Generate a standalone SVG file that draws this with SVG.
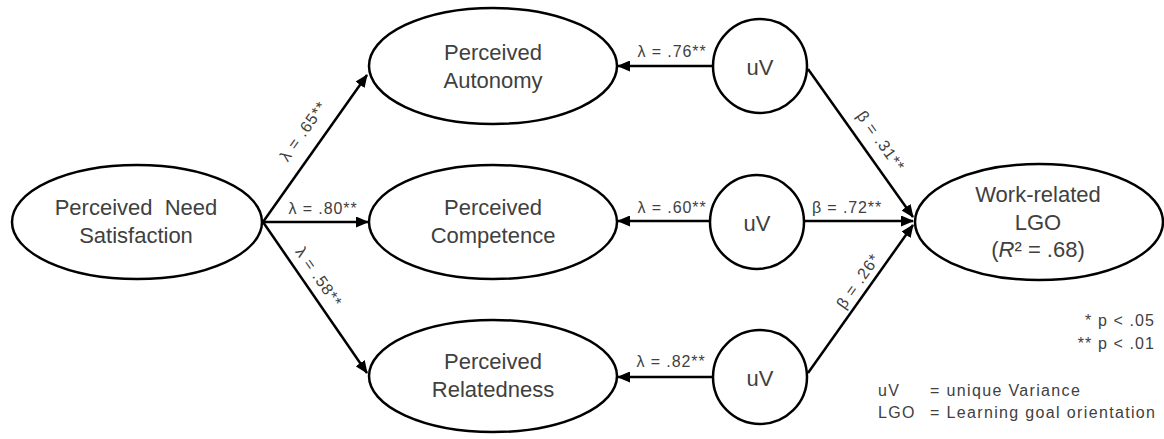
<svg xmlns="http://www.w3.org/2000/svg" width="1164" height="439" viewBox="0 0 1164 439">
<style>
.node{fill:#fff;stroke:#000;stroke-width:2.5}
.lbl{font-family:"Liberation Sans",Arial,sans-serif;font-size:22px;fill:#404040;text-anchor:middle}
.el{font-family:"Liberation Sans",Arial,sans-serif;font-size:16px;letter-spacing:0.9px;fill:#404040;text-anchor:middle}
.lg{font-family:"Liberation Sans",Arial,sans-serif;font-size:16px;letter-spacing:1.35px;fill:#404040}
.lgr{font-family:"Liberation Sans",Arial,sans-serif;font-size:16px;letter-spacing:1.1px;fill:#404040;text-anchor:end}
.con{fill:none;stroke:#000;stroke-width:2.5}
</style>
<defs>
<marker id="ah" markerUnits="userSpaceOnUse" markerWidth="13" markerHeight="11" viewBox="0 0 13 11" refX="12" refY="5.5" orient="auto">
<path d="M0,0 L13,5.5 L0,11 Z" fill="#000"/>
</marker>
</defs>
<g id="connectors">
<line class="con" x1="263" y1="222" x2="367" y2="75" marker-end="url(#ah)"/>
<line class="con" x1="263" y1="222" x2="368" y2="222" marker-end="url(#ah)"/>
<line class="con" x1="263" y1="222" x2="367" y2="373" marker-end="url(#ah)"/>
<line class="con" x1="713" y1="66" x2="618" y2="66" marker-end="url(#ah)"/>
<line class="con" x1="710" y1="221" x2="618" y2="221" marker-end="url(#ah)"/>
<line class="con" x1="713" y1="377" x2="618" y2="377" marker-end="url(#ah)"/>
<line class="con" x1="808" y1="69" x2="913" y2="217" marker-end="url(#ah)"/>
<line class="con" x1="804" y1="221" x2="913" y2="221" marker-end="url(#ah)"/>
<line class="con" x1="808" y1="373" x2="913" y2="225" marker-end="url(#ah)"/>
<text class="el" transform="translate(303,131) rotate(-54.7)" dy="0.35em">λ = .65**</text>
<text class="el" x="323" y="214">λ = .80**</text>
<text class="el" transform="translate(319,277) rotate(55.2)" dy="0.35em">λ = .58**</text>
<text class="el" x="672" y="57">λ = .76**</text>
<text class="el" x="672" y="213">λ = .60**</text>
<text class="el" x="671" y="367">λ = .82**</text>
<text class="el" x="847" y="213">β = .72**</text>
<text class="el" transform="translate(881,141) rotate(54.5)" dy="0.35em">β = .31**</text>
<text class="el" transform="translate(858,281) rotate(-55)" dy="0.35em">β = .26*</text>
</g>
<g id="need">
<ellipse class="node" cx="137" cy="222" rx="125" ry="57"/>
<text class="lbl" x="136" y="215" xml:space="preserve">Perceived  Need</text>
<text class="lbl" x="136" y="243">Satisfaction</text>
</g>
<g id="autonomy">
<ellipse class="node" cx="493" cy="66" rx="124" ry="58"/>
<text class="lbl" x="493" y="60">Perceived</text>
<text class="lbl" x="493" y="88">Autonomy</text>
</g>
<g id="competence">
<ellipse class="node" cx="493" cy="222" rx="124" ry="57"/>
<text class="lbl" x="493" y="215">Perceived</text>
<text class="lbl" x="493" y="243">Competence</text>
</g>
<g id="relatedness">
<ellipse class="node" cx="493" cy="376" rx="124" ry="56"/>
<text class="lbl" x="493" y="369">Perceived</text>
<text class="lbl" x="493" y="397">Relatedness</text>
</g>
<g id="uv1">
<circle class="node" cx="760" cy="66" r="47"/>
<text class="lbl" x="760" y="75">uV</text>
</g>
<g id="uv2">
<circle class="node" cx="757" cy="222" r="47"/>
<text class="lbl" x="757" y="231">uV</text>
</g>
<g id="uv3">
<circle class="node" cx="760" cy="377" r="47"/>
<text class="lbl" x="760" y="386">uV</text>
</g>
<g id="lgo">
<ellipse class="node" cx="1039" cy="222" rx="124" ry="58"/>
<text class="lbl" x="1038" y="202">Work-related</text>
<text class="lbl" x="1038" y="230">LGO</text>
<text class="lbl" x="1038" y="257">(<tspan font-style="italic">R</tspan>² = .68)</text>
</g>
<g id="legend">
<text class="lgr" x="1155" y="326">* p &lt; .05</text>
<text class="lgr" x="1155" y="349">** p &lt; .01</text>
<text class="lg" x="878" y="396">uV</text>
<text class="lg" x="930" y="396">= unique Variance</text>
<text class="lg" x="878" y="418">LGO</text>
<text class="lg" x="930" y="418">= Learning goal orientation</text>
</g>
</svg>
